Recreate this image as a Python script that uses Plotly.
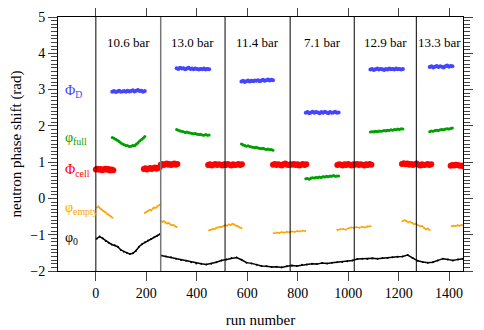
import numpy as np
import plotly.graph_objects as go

# vertical separators between pressure runs (run number)
boundaries = [0, 257, 512, 770, 1024, 1270]
x_end = 1455
pressures = ['10.6 bar', '13.0 bar', '11.4 bar', '7.1 bar', '12.9 bar', '13.3 bar']

# Phi_D (blue)
phiD_runs = [(65, 194), (320, 449), (577, 702), (832, 962), (1088, 1217), (1323, 1413)]
phiD_vals = [
    [2.94, 2.96, 2.93, 2.95, 2.97, 2.94, 2.95, 2.96, 2.94, 2.97, 2.95, 2.96, 2.98, 2.95, 2.97, 2.99, 2.96, 2.97, 2.94, 2.96],
    [3.59, 3.57, 3.60, 3.58, 3.59, 3.56, 3.58, 3.60, 3.57, 3.58, 3.56, 3.58, 3.57, 3.55, 3.57, 3.56, 3.58, 3.55, 3.57, 3.56],
    [3.22, 3.24, 3.21, 3.23, 3.25, 3.22, 3.24, 3.23, 3.25, 3.24, 3.26, 3.23, 3.25, 3.27, 3.24, 3.26, 3.28, 3.25, 3.27, 3.26],
    [2.36, 2.38, 2.35, 2.37, 2.39, 2.36, 2.38, 2.37, 2.35, 2.38, 2.36, 2.39, 2.37, 2.35, 2.38, 2.36, 2.37, 2.39, 2.36, 2.37],
    [3.55, 3.57, 3.54, 3.56, 3.58, 3.55, 3.57, 3.56, 3.54, 3.57, 3.55, 3.58, 3.56, 3.57, 3.55, 3.58, 3.56, 3.57, 3.55, 3.57],
    [3.62, 3.64, 3.61, 3.63, 3.65, 3.62, 3.64, 3.63, 3.61, 3.64, 3.66, 3.63, 3.65, 3.64],
]

# phi_full (green)
phifull_runs = phiD_runs
phifull_vals = [
    [1.68, 1.66, 1.63, 1.60, 1.57, 1.53, 1.50, 1.48, 1.46, 1.45, 1.43, 1.44, 1.46, 1.45, 1.49, 1.53, 1.58, 1.62, 1.66, 1.71],
    [1.90, 1.88, 1.86, 1.85, 1.84, 1.82, 1.83, 1.81, 1.80, 1.79, 1.78, 1.79, 1.77, 1.76, 1.77, 1.75, 1.74, 1.76, 1.74, 1.75],
    [1.50, 1.47, 1.46, 1.44, 1.45, 1.43, 1.42, 1.41, 1.40, 1.41, 1.39, 1.38, 1.37, 1.38, 1.36, 1.35, 1.36, 1.34, 1.35, 1.33],
    [0.54, 0.55, 0.53, 0.56, 0.57, 0.56, 0.58, 0.57, 0.59, 0.58, 0.60, 0.59, 0.61, 0.60, 0.62, 0.61, 0.63, 0.61, 0.62, 0.62],
    [1.83, 1.84, 1.83, 1.85, 1.84, 1.86, 1.85, 1.86, 1.87, 1.86, 1.88, 1.87, 1.89, 1.88, 1.90, 1.89, 1.91, 1.90, 1.92, 1.91],
    [1.84, 1.86, 1.85, 1.87, 1.88, 1.87, 1.89, 1.90, 1.89, 1.91, 1.92, 1.91, 1.93, 1.94],
]

# Phi_cell (red)
phicell_runs = [(0, 69), (190, 253), (257, 323), (445, 579), (702, 834), (957, 1092), (1213, 1329), (1406, 1455)]
phicell_vals = [
    [0.80, 0.82, 0.79, 0.81, 0.78, 0.80, 0.82, 0.79, 0.81, 0.77, 0.80, 0.78],
    [0.81, 0.83, 0.80, 0.82, 0.84, 0.81, 0.83, 0.85, 0.82, 0.84, 0.86],
    [0.93, 0.95, 0.92, 0.94, 0.96, 0.93, 0.95, 0.92, 0.94, 0.96, 0.93, 0.95],
    [0.92, 0.94, 0.91, 0.93, 0.95, 0.92, 0.94, 0.93, 0.91, 0.94, 0.92, 0.95, 0.93, 0.91, 0.94, 0.92, 0.93, 0.95, 0.92, 0.94],
    [0.93, 0.95, 0.92, 0.94, 0.93, 0.91, 0.94, 0.96, 0.93, 0.92, 0.94, 0.93, 0.95, 0.92, 0.94, 0.91, 0.93, 0.95, 0.92, 0.94],
    [0.92, 0.94, 0.93, 0.91, 0.94, 0.92, 0.95, 0.93, 0.91, 0.94, 0.93, 0.95, 0.92, 0.94, 0.93, 0.91, 0.94, 0.92, 0.95, 0.93],
    [0.95, 0.97, 0.94, 0.96, 0.93, 0.95, 0.92, 0.94, 0.96, 0.93, 0.91, 0.94, 0.92, 0.93, 0.95, 0.92, 0.94],
    [0.90, 0.92, 0.91, 0.93, 0.92, 0.90, 0.91, 0.89],
]

# phi_empty (orange)
phiempty_runs = [(5, 66), (194, 256), (257, 320), (449, 577), (705, 830), (957, 1088), (1215, 1323), (1410, 1457)]
phiempty_vals = [
    [-0.25, -0.22, -0.27, -0.30, -0.33, -0.36, -0.38, -0.42, -0.44, -0.47, -0.50, -0.53],
    [-0.40, -0.37, -0.35, -0.31, -0.33, -0.28, -0.25, -0.26, -0.22, -0.19, -0.17],
    [-0.62, -0.64, -0.63, -0.67, -0.69, -0.68, -0.72, -0.74, -0.73, -0.77, -0.79],
    [-0.88, -0.86, -0.84, -0.85, -0.81, -0.80, -0.78, -0.79, -0.76, -0.74, -0.75, -0.72, -0.73, -0.70, -0.72, -0.75, -0.77, -0.80, -0.82],
    [-0.96, -0.94, -0.95, -0.93, -0.94, -0.92, -0.93, -0.91, -0.92, -0.90, -0.91, -0.89, -0.90],
    [-0.87, -0.85, -0.84, -0.86, -0.82, -0.80, -0.81, -0.79, -0.81, -0.78, -0.80, -0.77, -0.76],
    [-0.63, -0.60, -0.62, -0.66, -0.64, -0.68, -0.71, -0.70, -0.74, -0.77, -0.76, -0.81, -0.85, -0.83, -0.87],
    [-0.77, -0.75, -0.76, -0.74, -0.75, -0.73, -0.75],
]

# phi_0 (black), two continuous stretches
phi0_runs = [(3, 255), (258, 1455)]
phi0_vals = [
    [-1.11, -1.05, -1.10, -1.17, -1.22, -1.27, -1.29, -1.33, -1.42, -1.47, -1.50, -1.53, -1.51, -1.44, -1.33, -1.26, -1.21, -1.16, -1.12, -1.07, -1.03, -0.98],
    [-1.57, -1.60, -1.62, -1.66, -1.70, -1.72, -1.76, -1.79, -1.80, -1.82, -1.80, -1.76, -1.71, -1.68, -1.64,
     -1.63, -1.69, -1.77, -1.79, -1.83, -1.86, -1.87, -1.89, -1.88, -1.90, -1.87, -1.85, -1.86, -1.83, -1.82,
     -1.80, -1.81, -1.78, -1.79, -1.77, -1.76, -1.75, -1.73, -1.71, -1.67, -1.66, -1.67, -1.65, -1.66, -1.64,
     -1.64, -1.62, -1.61, -1.60, -1.56, -1.64, -1.72, -1.75, -1.77, -1.76, -1.71, -1.66, -1.68, -1.71, -1.68, -1.66],
]

series = [
    (phiD_runs, phiD_vals, '#4545ff', 4, 2.5),
    (phifull_runs, phifull_vals, '#00a000', 3, 2),
    (phicell_runs, phicell_vals, '#ff0000', 6, 4),
    (phiempty_runs, phiempty_vals, '#ffa500', 2, 1.3),
    (phi0_runs, phi0_vals, 'black', 2, 1.5),
]

labels = [
    ('Φ<sub>D</sub>', 2.96, '#4545ff'),
    ('φ<sub>full</sub>', 1.65, '#00a000'),
    ('Φ<sub>cell</sub>', 0.77, '#ff0000'),
    ('φ<sub>empty</sub>', -0.28, '#ffa500'),
    ('φ<sub>0</sub>', -1.11, 'black'),
]

fig = go.Figure()

for runs, vals, color, msize, lw in series:
    for (a, b), ys in zip(runs, vals):
        xs = np.linspace(a, b, len(ys))
        fig.add_trace(go.Scatter(
            x=xs.tolist(), y=ys, mode='lines+markers',
            line=dict(color=color, width=lw),
            marker=dict(color=color, size=msize),
            showlegend=False, hoverinfo='skip'
        ))

# dummy trace so the right-hand tick axis is drawn
fig.add_trace(go.Scatter(x=[None], y=[None], yaxis='y2', showlegend=False, hoverinfo='skip'))

# separators
for i, b in enumerate(boundaries):
    fig.add_shape(type='line', xref='x', yref='paper', x0=b, x1=b, y0=0, y1=1,
                  line=dict(color='#777' if i == 1 else 'black', width=1.5 if i == 1 else 1))

# pressure labels, centred in each run block
edges = boundaries + [x_end]
for i, p in enumerate(pressures):
    fig.add_annotation(x=(edges[i] + edges[i + 1]) / 2, y=4.3, text=p, showarrow=False,
                       font=dict(size=13, color='black'))

for txt, yv, col in labels:
    fig.add_annotation(x=-130, y=yv, text=txt, showarrow=False, xanchor='left',
                       font=dict(size=14, color=col))

# page body adds ~8px offset, so the figure is a bit smaller than the window
serif = 'Liberation Serif, Times New Roman, serif'
fig.update_layout(
    width=476, height=322,
    margin=dict(l=50, r=21, t=9, b=59),
    paper_bgcolor='white', plot_bgcolor='white',
    font=dict(family=serif, size=14, color='black'),
    xaxis=dict(range=[-150, x_end], dtick=200, tick0=0, ticks='outside', ticklen=9,
               showline=True, linecolor='black', linewidth=1, mirror='ticks',
               showgrid=False, zeroline=False, automargin=False,
               tickfont=dict(family=serif, size=14),
               title=dict(text='run number', standoff=14, font=dict(family=serif, size=15))),
    yaxis=dict(range=[-2, 5], dtick=1, ticks='outside', ticklen=9,
               showline=True, linecolor='black', linewidth=1, mirror=True,
               showgrid=False, zeroline=False, automargin=False,
               tickfont=dict(family=serif, size=14),
               minor=dict(dtick=0.1, ticks='outside', ticklen=6, showgrid=False),
               title=dict(text='neutron phase shift (rad)', standoff=6, font=dict(family=serif, size=15))),
    yaxis2=dict(range=[-2, 5], dtick=1, overlaying='y', side='right', ticks='outside', ticklen=9,
                showticklabels=False, showgrid=False, zeroline=False, showline=False, automargin=False,
                minor=dict(dtick=0.1, ticks='outside', ticklen=6, showgrid=False)),
)

fig.write_html("out.html")
